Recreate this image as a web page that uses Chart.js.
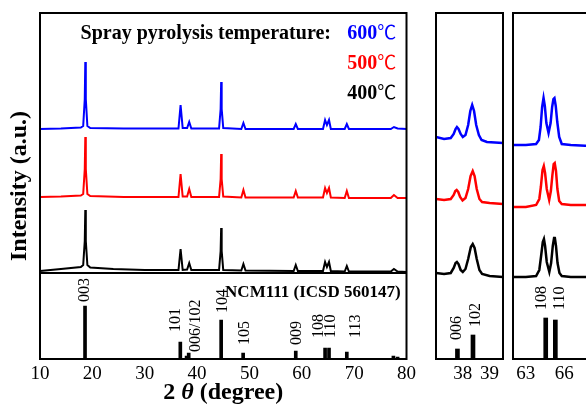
<!DOCTYPE html>
<html>
<head>
<meta charset="utf-8">
<script src="https://cdn.jsdelivr.net/npm/chart.js@4.4.1/dist/chart.umd.min.js"></script>
<style>
  html, body { margin: 0; padding: 0; width: 586px; height: 407px; overflow: hidden; background: #fff; }
  canvas { position: absolute; top: 0; }
  #main { left: 0; }
  #zoomA { left: 430px; }
  #zoomB { left: 505px; }
</style>
</head>
<body>
<canvas id="main" width="420" height="407"></canvas>
<canvas id="zoomA" width="80" height="407"></canvas>
<canvas id="zoomB" width="100" height="407"></canvas>
<script>
// --- data: [2theta, intensity (a.u., offset)] ---
const mainTicks = [10, 20, 30, 40, 50, 60, 70, 80];
const zoomATicks = [38, 39];
const zoomBTicks = [63, 66];

const main600 = [[10,230],[14,230.5],[17.8,231.5],[18.25,233],[18.55,260],[18.65,297],[18.75,260],[19.05,233],[19.6,231],[26,230.5],[36.45,230.5],[36.85,254],[37.25,231],[38.1,231],[38.5,237],[38.9,230.5],[44.2,230.5],[44.5,250],[44.6,277],[44.7,250],[45.0,231],[48.45,230],[48.85,236],[49.25,230],[58.45,230],[58.85,235],[59.25,230],[64.05,230],[64.45,239],[64.8,234],[65.2,239],[65.55,230],[68.2,230],[68.6,235],[69.0,230],[77.0,230],[77.6,232],[78.3,230.5],[80,230]];
const main500 = [[10,162],[14,162.5],[17.8,163.5],[18.25,165],[18.55,190],[18.65,222],[18.75,190],[19.05,165],[19.6,163],[26,162],[36.45,162],[36.85,185],[37.25,162.5],[38.1,162.5],[38.5,170],[38.9,162],[44.2,162],[44.5,180],[44.6,205],[44.7,180],[45.0,162.5],[48.45,161.5],[48.85,169],[49.25,161.5],[58.45,161.5],[58.85,168],[59.25,161.5],[64.05,161.5],[64.45,171],[64.8,166],[65.2,171],[65.55,161.5],[68.2,161],[68.6,168],[69.0,161],[77.0,161],[77.6,164],[78.3,161],[80,161]];
const main400 = [[10,88],[14,90],[17.8,92],[18.25,94],[18.55,118],[18.65,149],[18.75,118],[19.05,94],[19.6,91.5],[24,90],[30,89],[36.45,89],[36.85,110],[37.25,89],[38.1,89.5],[38.5,96],[38.9,89],[44.2,89],[44.5,108],[44.6,131],[44.7,108],[45.0,89],[48.45,88.5],[48.85,95],[49.25,88.5],[58.45,88],[58.85,94],[59.25,88],[64.05,88],[64.45,97],[64.8,92],[65.2,97],[65.55,88],[68.2,87.5],[68.6,93],[69.0,87.5],[77.0,87.5],[77.6,90],[78.3,87.5],[80,87]];

const zoomA600 = [[37,222],[37.3,220],[37.55,221],[37.66,225],[37.73,230],[37.78,232],[37.84,230],[37.92,225],[38.0,222],[38.1,224],[38.2,234],[38.28,248],[38.35,254],[38.42,248],[38.5,234],[38.6,224],[38.7,219],[38.9,217],[39.2,216.5],[39.5,216]];
const zoomA500 = [[37,160],[37.3,159],[37.55,160],[37.66,164],[37.72,168],[37.77,169],[37.83,167],[37.9,162],[37.99,158.5],[38.1,161],[38.2,170],[38.29,183],[38.37,188],[38.44,183],[38.52,170],[38.62,160],[38.72,157],[39.0,156],[39.5,155]];
const zoomA400 = [[37,86],[37.3,85],[37.55,86],[37.66,91],[37.73,96],[37.78,97],[37.84,95],[37.92,89],[38.0,87],[38.1,90],[38.2,100],[38.3,112],[38.37,115],[38.44,111],[38.52,100],[38.62,89],[38.72,85],[39.0,83],[39.5,82]];

const zoomB600 = [[62,214],[63,214],[63.8,215],[64.02,219],[64.15,232],[64.27,252],[64.38,261],[64.48,253],[64.6,236],[64.77,226],[64.93,236],[65.05,252],[65.15,260],[65.23,261],[65.33,253],[65.45,237],[65.6,222],[65.8,215],[66.5,214],[68,213]];
const zoomB500 = [[62,152],[63,152],[63.8,154],[64.05,160],[64.17,172],[64.3,189],[64.4,193],[64.5,186],[64.63,170],[64.82,159],[64.95,168],[65.07,184],[65.17,195],[65.25,196],[65.35,188],[65.46,170],[65.6,158],[65.8,155],[66.5,154],[68,154]];
const zoomB400 = [[62,82],[63,82],[63.8,83],[64.05,89],[64.18,102],[64.32,117],[64.41,120],[64.5,113],[64.63,97],[64.83,87],[64.97,96],[65.1,113],[65.2,121],[65.25,122],[65.35,113],[65.47,96],[65.62,86],[65.8,83],[66.5,82],[68,82]];

// reference pattern NCM111 (ICSD 560147)
const refPos = [18.6, 36.8, 38.0, 38.4, 44.6, 48.8, 58.85, 64.45, 65.2, 68.6, 77.5, 78.3];
const refInt = [53, 17, 3, 6, 39, 6, 8, 11, 11, 7, 3, 2];
const refAPos = [37.8, 38.38];
const refAInt = [10, 24];
const refBPos = [64.55, 65.3];
const refBInt = [41, 39];

const hklMain = ['003', '101', '006/102', '104', '105', '009', '108', '110', '113'];
const hklMainAt = [[18.5,57],[36.0,27],[39.8,7],[44.9,46],[49.1,14],[59.1,14],[63.3,21],[65.6,21],[70.3,21]];
const hklA = ['006', '102'];
const hklAAt = [[37.76,19],[38.48,32]];
const hklB = ['108', '110'];
const hklBAt = [[64.23,49],[65.67,49]];

const tempLabels = ['600', '500', '400'];
const tempColors = ['#0000ff', '#ff0000', '#000000'];

const SERIF = "'Liberation Serif', 'Times New Roman', serif";
const dividerLevel = 86;

function pts(arr) { return arr.map(([x, y]) => ({ x, y })); }
function sticks(pos, inten) { return pos.map((x, i) => ({ x, y: inten[i] })); }

function traceSets(t600, t500, t400, lw) {
  return [t600, t500, t400].map((t, i) => ({
    type: 'line',
    data: pts(t),
    borderColor: tempColors[i],
    borderWidth: lw,
    pointRadius: 0,
    tension: 0,
    fill: false
  }));
}

function drawVLabels(chart, labels, at) {
  const { ctx, scales: { x, y } } = chart;
  ctx.save();
  ctx.fillStyle = '#000';
  ctx.font = '16px ' + SERIF;
  ctx.textAlign = 'left';
  ctx.textBaseline = 'middle';
  labels.forEach((t, i) => {
    ctx.save();
    ctx.translate(x.getPixelForValue(at[i][0]), y.getPixelForValue(at[i][1]));
    ctx.rotate(-Math.PI / 2);
    ctx.fillText(t, 0, 0);
    ctx.restore();
  });
  ctx.restore();
}

function panelPlugin(extra) {
  return {
    id: 'panel',
    afterDraw(chart) {
      const { ctx, chartArea: a } = chart;
      ctx.save();
      ctx.strokeStyle = '#000';
      ctx.lineWidth = 2;
      ctx.strokeRect(a.left, a.top, a.right - a.left, a.bottom - a.top);
      ctx.restore();
      extra(chart);
    }
  };
}

function baseOptions(xmin, xmax, ticks, pad) {
  return {
    responsive: false,
    animation: false,
    layout: { padding: pad },
    plugins: { legend: { display: false }, tooltip: { enabled: false } },
    scales: {
      x: {
        type: 'linear', min: xmin, max: xmax, offset: false,
        grid: { display: false, drawTicks: false, offset: false },
        border: { display: false },
        afterBuildTicks: s => { s.ticks = ticks.map(v => ({ value: v })); },
        afterFit: s => { s.height = 48; },
        ticks: { autoSkip: false, maxRotation: 0, padding: 4, color: '#000', font: { family: SERIF, size: 19 } }
      },
      y: {
        min: 0, max: 346, display: false,
        grid: { display: false }
      }
    }
  };
}

// --- main panel ---
const mainOpts = baseOptions(10, 80, mainTicks, { top: 13, right: 11, left: 0, bottom: 0 });
mainOpts.scales.y = {
  min: 0, max: 346, display: true,
  grid: { display: false, drawTicks: false },
  border: { display: false },
  ticks: { display: false },
  afterFit: s => { s.width = 40; },
  title: { display: true, text: 'Intensity (a.u.)', color: '#000', padding: { top: 5, bottom: 0 }, font: { family: SERIF, size: 24, weight: 'bold' } }
};

new Chart(document.getElementById('main'), {
  type: 'line',
  data: {
    datasets: [
      ...traceSets(main600, main500, main400, 2),
      { type: 'bar', data: sticks(refPos, refInt), backgroundColor: '#000', barThickness: 3, grouped: false, borderWidth: 0 }
    ]
  },
  options: mainOpts,
  plugins: [panelPlugin(chart => {
    const { ctx, chartArea: a, scales: { x, y } } = chart;
    ctx.save();
    // divider between measured patterns and reference
    ctx.strokeStyle = '#000';
    ctx.lineWidth = 2;
    const yd = y.getPixelForValue(dividerLevel);
    ctx.beginPath(); ctx.moveTo(a.left, yd); ctx.lineTo(a.right, yd); ctx.stroke();

    // legend text
    ctx.textBaseline = 'alphabetic';
    ctx.textAlign = 'left';
    ctx.fillStyle = '#000';
    ctx.font = 'bold 20px ' + SERIF;
    ctx.fillText('Spray pyrolysis temperature:', x.getPixelForValue(17.75), y.getPixelForValue(320));
    tempLabels.forEach((t, i) => {
      const lx = x.getPixelForValue(68.7), ly = y.getPixelForValue(320 - 30 * i);
      ctx.fillStyle = tempColors[i];
      ctx.font = 'bold 20px ' + SERIF;
      ctx.fillText(t, lx, ly);
      const tw = ctx.measureText(t).width;
      ctx.font = "19px 'Noto Sans CJK SC', " + SERIF;
      ctx.fillText('\u2103', lx + tw, ly);
    });

    ctx.fillStyle = '#000';
    ctx.font = 'bold 17px ' + SERIF;
    ctx.textAlign = 'right';
    ctx.fillText('NCM111 (ICSD 560147)', x.getPixelForValue(78.9), y.getPixelForValue(62));

    // x axis title with italic theta
    const parts = [['2 ', 'bold 24px ' + SERIF], ['\u03b8', 'italic bold 24px ' + SERIF], [' (degree)', 'bold 24px ' + SERIF]];
    let w = 0;
    parts.forEach(([t, f]) => { ctx.font = f; w += ctx.measureText(t).width; });
    let cx = (a.left + a.right) / 2 - w / 2;
    ctx.textAlign = 'left';
    parts.forEach(([t, f]) => { ctx.font = f; ctx.fillText(t, cx, chart.height - 8); cx += ctx.measureText(t).width; });
    ctx.restore();

    drawVLabels(chart, hklMain, hklMainAt);
  })]
});

// --- zoom panel 37-39.5 ---
new Chart(document.getElementById('zoomA'), {
  type: 'line',
  data: {
    datasets: [
      ...traceSets(zoomA600, zoomA500, zoomA400, 2.5),
      { type: 'bar', data: sticks(refAPos, refAInt), backgroundColor: '#000', barThickness: 4, grouped: false, borderWidth: 0 }
    ]
  },
  options: baseOptions(37, 39.5, zoomATicks, { top: 13, right: 7, left: 6, bottom: 0 }),
  plugins: [panelPlugin(chart => drawVLabels(chart, hklA, hklAAt))]
});

// --- zoom panel 62-68 ---
new Chart(document.getElementById('zoomB'), {
  type: 'line',
  data: {
    datasets: [
      ...traceSets(zoomB600, zoomB500, zoomB400, 2.5),
      { type: 'bar', data: sticks(refBPos, refBInt), backgroundColor: '#000', barThickness: 4, grouped: false, borderWidth: 0 }
    ]
  },
  options: baseOptions(62, 68, zoomBTicks, { top: 13, right: 15, left: 8, bottom: 0 }),
  plugins: [panelPlugin(chart => drawVLabels(chart, hklB, hklBAt))]
});
</script>
</body>
</html>
